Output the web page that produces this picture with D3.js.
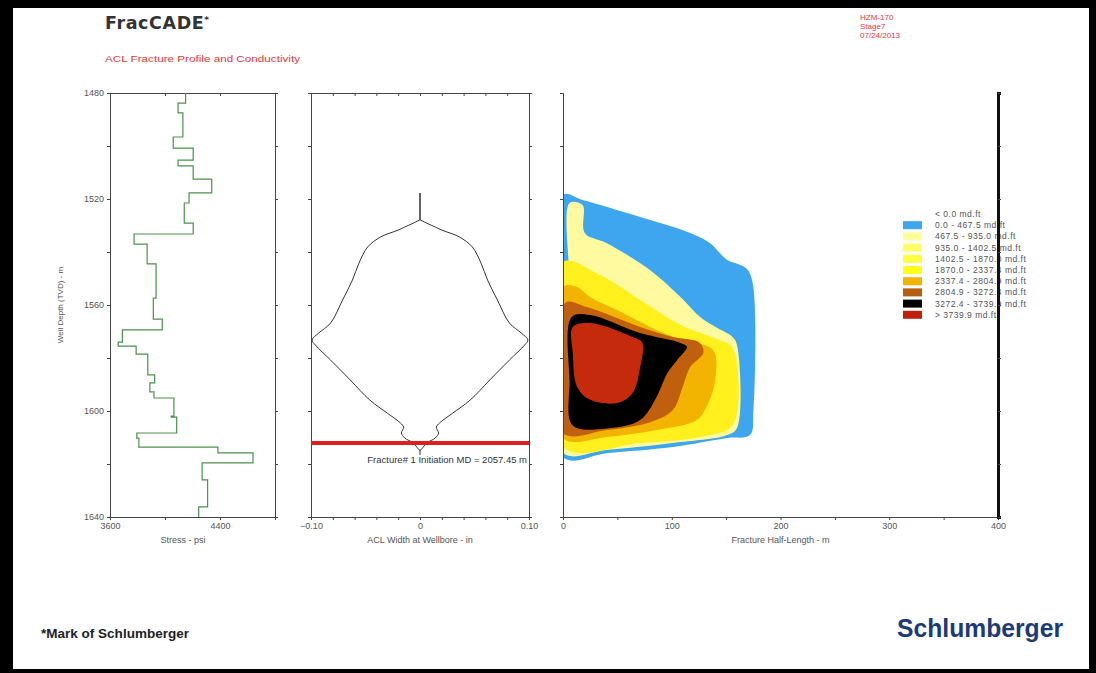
<!DOCTYPE html>
<html>
<head>
<meta charset="utf-8">
<script src="https://cdn.jsdelivr.net/npm/d3@7"></script>
<style>
  body { margin: 0; background: #fff; }
  svg { display: block; font-family: "Liberation Sans", Arial, sans-serif; }
  .axis path, .axis line { stroke: #444; }
  .axis text { fill: #555; font-size: 9px; font-family: "Liberation Sans", Arial, sans-serif; }
</style>
</head>
<body>
<script>
// DATA //
const depthTicks = [1480, 1520, 1560, 1600, 1640];
const stressTicks = [3600, 4400];
const widthTicks = [-0.10, -0.05, 0, 0.05, 0.10];
const lengthTicks = [0, 100, 200, 300, 400];

// stress log - top of each layer (m) and its stress (psi)
const stressDepth = [1480, 1483.8, 1487.5, 1496.6, 1500.8, 1505.3, 1507.5, 1512.5, 1517.7, 1521.5,
    1529.1, 1533.2, 1537.0, 1544.5, 1557.4, 1565.3, 1569.4, 1574.0, 1575.5, 1578.5,
    1586.4, 1589.4, 1592.8, 1595.1, 1601.9, 1602.3, 1608.3, 1610.2, 1613.6, 1615.8,
    1619.6, 1626.0, 1636.2];
const stressValue = [4150, 4095, 4130, 4060, 4205, 4095, 4205, 4340, 4175, 4140,
    4205, 3775, 3870, 3935, 3915, 3980, 3690, 3660, 3790, 3875,
    3925, 3890, 3920, 4065, 4045, 4085, 3795, 3810, 4385, 4640,
    4270, 4310, 4245];
const stressBottom = 1640;

// ACL width at wellbore - half width (in) vs depth (m)
const aclDepth = [1527.9, 1531.7, 1534.3, 1538.1, 1544.2, 1550.6, 1558.1, 1566.8, 1570.6, 1573.2,
    1575.1, 1580.8, 1588.3, 1595.9, 1600.8, 1604.5, 1606.1, 1608.3, 1610.2, 1612.1, 1614.7];
const aclHalf = [0, 0.020, 0.036, 0.048, 0.056, 0.062, 0.071, 0.082, 0.093, 0.099,
    0.096, 0.082, 0.064, 0.046, 0.030, 0.018, 0.015, 0.017, 0.014, 0.006, 0];
const aclSpike = [1517.7, 1527.9];
const aclTail = [1614.7, 1616.6];
const initiationDepth = 1612.1;
const initiationLabel = 'Fracture# 1 Initiation MD = 2057.45 m';

// conductivity zones - [half-length (m), depth (m)], outer to inner
const zoneBlue = [[0, 1518.5], [18, 1520.4], [71, 1526.8], [117, 1532.8], [135, 1536.6], [151, 1543.0],
    [163, 1544.9], [170, 1546.8], [175, 1553.2], [175, 1600.8], [172, 1609.1], [151, 1610.2],
    [101, 1613.6], [40, 1615.9], [0, 1617.4]];
const zonePale = [[6, 1521.5], [18, 1522.3], [20, 1532.8], [40, 1536.6], [80, 1546.8], [108, 1557.0],
    [126, 1564.5], [142, 1568.7], [156, 1572.1], [160, 1575.1], [160, 1606.4], [151, 1609.1],
    [101, 1612.1], [40, 1614.7], [0, 1615.8], [0, 1558.1], [5, 1554.3]];
const zoneYellow = [[0, 1543.8], [34, 1548.7], [71, 1558.1], [108, 1567.5], [144, 1573.2], [156, 1576.2],
    [156, 1605.3], [126, 1609.8], [71, 1612.1], [0, 1613.6]];
const zoneGold = [[0, 1553.2], [13, 1553.2], [25, 1557.0], [55, 1563.0], [86, 1569.4], [110, 1573.2],
    [138, 1577.0], [140, 1588.3], [132, 1598.5], [123, 1603.4], [86, 1607.2], [40, 1609.8], [0, 1610.2]];
const zoneBrown = [[2, 1559.2], [22, 1560.8], [71, 1568.3], [101, 1572.1], [126, 1574.3], [129, 1578.1],
    [117, 1583.4], [110, 1590.9], [101, 1599.6], [80, 1604.2], [40, 1607.2], [0, 1608.3]];
const zoneBlack = [[8, 1564.5], [25, 1563.8], [71, 1570.6], [108, 1574.3], [114, 1575.8], [105, 1580.8],
    [96, 1585.7], [86, 1594.7], [71, 1603.4], [40, 1606.6], [9, 1605.5], [6, 1588.3]];
const zoneRed = [[9, 1568.3], [25, 1566.8], [64, 1572.1], [73, 1574.3], [71, 1583.4], [64, 1593.2],
    [50, 1597.0], [25, 1595.8], [13, 1590.9], [9, 1578.1]];
const zoneList = [zoneBlue, zonePale, zoneYellow, zoneGold, zoneBrown, zoneBlack, zoneRed];
const zoneColors = ['#3ea6ee', '#fff9a0', '#fff01e', '#f2b400', '#c0600e', '#000000', '#c52a0c'];

// legend
const legendLabels = ['< 0.0 md.ft', '0.0 - 467.5 md.ft', '467.5 - 935.0 md.ft', '935.0 - 1402.5 md.ft',
    '1402.5 - 1870.0 md.ft', '1870.0 - 2337.4 md.ft', '2337.4 - 2804.9 md.ft', '2804.9 - 3272.4 md.ft',
    '3272.4 - 3739.9 md.ft', '> 3739.9 md.ft'];
const legendColors = [null, '#3ea6ee', '#ffff99', '#ffff66', '#ffff40', '#ffff1a', '#f2b400', '#b85c10', '#000000', '#c0200c'];

const headerRight = ['HZM-170', 'Stage7', '07/24/2013'];


// SVG //
const svg = d3.select('body')
    .append('svg')
    .attr('width', 1096)
    .attr('height', 673);

svg.append('rect').attr('width', 1096).attr('height', 673).attr('fill', '#fff');

// shared depth scale
const y = d3.scaleLinear().domain([1480, 1640]).range([93, 517]);
const x1 = d3.scaleLinear().domain([3600, 4800]).range([110, 275]);
const x2 = d3.scaleLinear().domain([-0.1, 0.1]).range([311, 529]);
const x3 = d3.scaleLinear().domain([0, 400]).range([563, 998]);

const minorDepth = d3.range(1480, 1641, 20);


// HEADER //
const title = svg.append('text')
    .attr('x', 105).attr('y', 29)
    .attr('fill', '#333')
    .style('font-size', '17.5px')
    .style('font-weight', 'bold')
    .style('letter-spacing', '0.6px')
    .style('font-family', '"DejaVu Sans", sans-serif')
    .text('FracCADE');
title.append('tspan').attr('dy', -6).style('font-size', '9px').text('*');

svg.append('text')
    .attr('x', 105).attr('y', 62)
    .attr('fill', '#e23a3a')
    .attr('textLength', 195)
    .attr('lengthAdjust', 'spacingAndGlyphs')
    .style('font-size', '9px')
    .text('ACL Fracture Profile and Conductivity');

svg.selectAll('.hdr')
    .data(headerRight)
    .join('text')
    .attr('x', 860)
    .attr('y', (d, i) => 20 + i * 9)
    .attr('fill', '#e23a3a')
    .style('font-size', '8px')
    .text(d => d);


// PANEL 1 : STRESS //
const p1 = svg.append('g');

p1.append('g').attr('class', 'axis')
    .attr('transform', `translate(${x1.range()[0]},0)`)
    .call(d3.axisLeft(y).tickValues(minorDepth).tickSize(3)
        .tickFormat(d => depthTicks.includes(d) ? d : ''));
p1.append('g').attr('class', 'axis')
    .attr('transform', `translate(${x1.range()[1]},0)`)
    .call(d3.axisRight(y).tickValues(minorDepth).tickSize(3).tickFormat(''));
p1.append('g').attr('class', 'axis')
    .attr('transform', `translate(0,${y(1640)})`)
    .call(d3.axisBottom(x1).tickValues([3600, 4000, 4400, 4800]).tickSize(3)
        .tickFormat(d => stressTicks.includes(d) ? d : ''));
p1.append('g').attr('class', 'axis')
    .attr('transform', `translate(0,${y(1480)})`)
    .call(d3.axisBottom(x1).tickValues([3600, 4000, 4400, 4800]).tickSize(3).tickFormat(''));

const stressPts = [];
stressValue.forEach((s, i) => {
    const bot = i < stressDepth.length - 1 ? stressDepth[i + 1] : stressBottom;
    stressPts.push([s, stressDepth[i]], [s, bot]);
});
p1.append('path')
    .attr('d', d3.line().x(d => x1(d[0])).y(d => y(d[1]))(stressPts))
    .attr('fill', 'none')
    .attr('stroke', '#4a934a')
    .attr('stroke-width', 1.2);

p1.append('text')
    .attr('transform', `translate(63,${y(1560)}) rotate(-90)`)
    .attr('text-anchor', 'middle')
    .attr('fill', '#555')
    .style('font-size', '8px')
    .text('Well Depth (TVD) - m');
p1.append('text')
    .attr('x', 183).attr('y', 543)
    .attr('text-anchor', 'middle')
    .attr('fill', '#555')
    .style('font-size', '9px')
    .text('Stress - psi');


// PANEL 2 : ACL WIDTH //
const p2 = svg.append('g');

p2.append('g').attr('class', 'axis')
    .attr('transform', `translate(${x2.range()[0]},0)`)
    .call(d3.axisLeft(y).tickValues(minorDepth).tickSize(3).tickFormat(''));
p2.append('g').attr('class', 'axis')
    .attr('transform', `translate(${x2.range()[1]},0)`)
    .call(d3.axisRight(y).tickValues(minorDepth).tickSize(3).tickFormat(''));
p2.append('g').attr('class', 'axis')
    .attr('transform', `translate(0,${y(1640)})`)
    .call(d3.axisBottom(x2).ticks(8).tickSize(3)
        .tickFormat(d => widthTicks.some(t => Math.abs(t - d) < 1e-9) ? d3.format('.2f')(d).replace('0.00', '0') : ''));
p2.append('g').attr('class', 'axis')
    .attr('transform', `translate(0,${y(1480)})`)
    .call(d3.axisTop(x2).ticks(8).tickSize(-3).tickFormat(''));

const aclRight = aclDepth.map((d, i) => [aclHalf[i], d]);
const aclLeft = aclDepth.map((d, i) => [-aclHalf[i], d]).slice(0, -1).reverse();
const aclLine = d3.line().x(d => x2(d[0])).y(d => y(d[1])).curve(d3.curveCatmullRom.alpha(0.5));

p2.append('path')
    .attr('d', aclLine(aclRight.concat(aclLeft)))
    .attr('fill', 'none')
    .attr('stroke', '#333')
    .attr('stroke-width', 1);
p2.append('line')
    .attr('x1', x2(0)).attr('x2', x2(0))
    .attr('y1', y(aclSpike[0])).attr('y2', y(aclSpike[1]))
    .attr('stroke', '#222').attr('stroke-width', 1.4);
p2.append('line')
    .attr('x1', x2(0)).attr('x2', x2(0))
    .attr('y1', y(aclTail[0])).attr('y2', y(aclTail[1]))
    .attr('stroke', '#333').attr('stroke-width', 1);

p2.append('line')
    .attr('x1', x2(-0.1)).attr('x2', x2(0.1))
    .attr('y1', y(initiationDepth)).attr('y2', y(initiationDepth))
    .attr('stroke', '#e01e1e')
    .attr('stroke-width', 4);
p2.append('text')
    .attr('x', x2(0.1) - 2).attr('y', y(initiationDepth) + 20)
    .attr('text-anchor', 'end')
    .attr('fill', '#333')
    .style('font-size', '9.5px')
    .text(initiationLabel);

p2.append('text')
    .attr('x', x2(0)).attr('y', 543)
    .attr('text-anchor', 'middle')
    .attr('fill', '#555')
    .style('font-size', '9px')
    .text('ACL Width at Wellbore - in');


// PANEL 3 : CONDUCTIVITY //
const p3 = svg.append('g');

svg.append('clipPath').attr('id', 'clip3')
    .append('rect')
    .attr('x', x3(0)).attr('y', y(1480))
    .attr('width', x3(400) - x3(0)).attr('height', y(1640) - y(1480));

const zoneLine = d3.line().x(d => x3(d[0])).y(d => y(d[1])).curve(d3.curveCatmullRomClosed.alpha(0.5));
p3.append('g')
    .attr('clip-path', 'url(#clip3)')
    .selectAll('path')
    .data(zoneList)
    .join('path')
    .attr('d', d => zoneLine(d))
    .attr('fill', (d, i) => zoneColors[i]);

// LEGEND (drawn below the right axis line)
svg.append('clipPath').attr('id', 'clipLeg')
    .append('rect').attr('x', 890).attr('y', 200).attr('width', 150).attr('height', 130);
const leg = p3.append('g').attr('clip-path', 'url(#clipLeg)');
leg.selectAll('rect')
    .data(legendColors.map((c, i) => ({ c, i })).filter(d => d.c))
    .join('rect')
    .attr('x', 903)
    .attr('y', d => 210 + d.i * 11.2)
    .attr('width', 19)
    .attr('height', 8)
    .attr('fill', d => d.c);
leg.selectAll('text')
    .data(legendLabels)
    .join('text')
    .attr('x', 935)
    .attr('y', (d, i) => 217 + i * 11.2)
    .attr('fill', '#555')
    .style('font-size', '8.5px')
    .style('letter-spacing', '0.5px')
    .text(d => d);

p3.append('g').attr('class', 'axis')
    .attr('transform', `translate(${x3(0)},0)`)
    .call(d3.axisLeft(y).tickValues(minorDepth).tickSize(3).tickFormat(''));
p3.append('g').attr('class', 'axis')
    .attr('transform', `translate(0,${y(1640)})`)
    .call(d3.axisBottom(x3).tickValues(d3.range(0, 401, 50)).tickSize(3)
        .tickFormat(d => lengthTicks.includes(d) ? d : ''));
const rightAxis = p3.append('g').attr('class', 'axis')
    .attr('transform', `translate(${x3(400)},0)`)
    .call(d3.axisRight(y).tickValues(minorDepth).tickSize(3).tickFormat(''));
rightAxis.select('.domain').style('stroke', '#111').style('stroke-width', 3);

p3.append('text')
    .attr('x', x3(200)).attr('y', 543)
    .attr('text-anchor', 'middle')
    .attr('fill', '#555')
    .style('font-size', '9px')
    .text('Fracture Half-Length - m');


// FOOTER //
svg.append('text')
    .attr('x', 41).attr('y', 638)
    .attr('fill', '#222')
    .attr('textLength', 148)
    .attr('lengthAdjust', 'spacingAndGlyphs')
    .style('font-size', '13px')
    .style('font-weight', 'bold')
    .text('*Mark of Schlumberger');
svg.append('text')
    .attr('x', 897).attr('y', 637)
    .attr('fill', '#1d3a78')
    .attr('textLength', 166)
    .attr('lengthAdjust', 'spacingAndGlyphs')
    .style('font-size', '26px')
    .style('font-weight', 'bold')
    .text('Schlumberger');

// PAGE FRAME //
svg.append('rect').attr('x', 0).attr('y', 0).attr('width', 1096).attr('height', 8).attr('fill', '#000');
svg.append('rect').attr('x', 0).attr('y', 0).attr('width', 13).attr('height', 673).attr('fill', '#000');
svg.append('rect').attr('x', 0).attr('y', 669).attr('width', 1096).attr('height', 4).attr('fill', '#000');
svg.append('rect').attr('x', 1089).attr('y', 0).attr('width', 7).attr('height', 673).attr('fill', '#000');
</script>
</body>
</html>
